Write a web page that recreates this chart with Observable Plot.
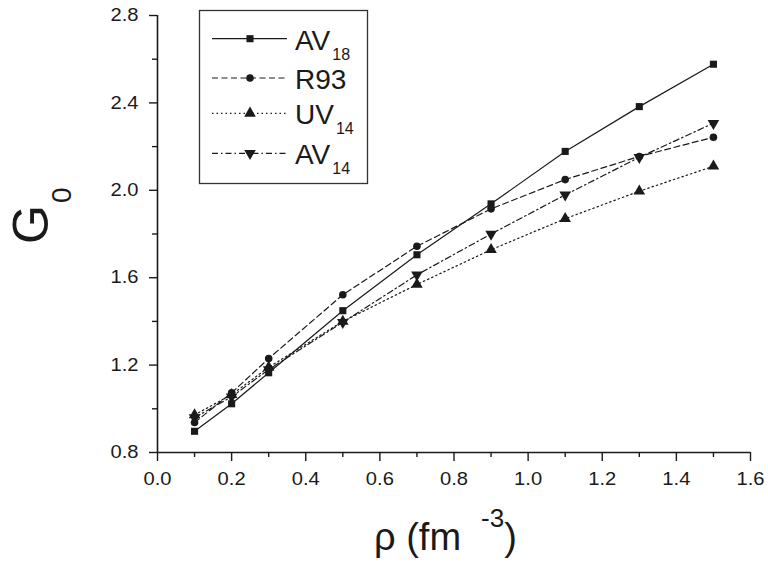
<!DOCTYPE html>
<html><head><meta charset="utf-8">
<script src="https://cdn.jsdelivr.net/npm/d3@7"></script>
<script src="https://cdn.jsdelivr.net/npm/@observablehq/plot@0.6"></script>
<style>html,body{margin:0;padding:0;background:#fff} svg{display:block}</style>
</head><body><div id="chart"></div>
<script>
// ---- data ----
const rho  = [0.1, 0.2, 0.3, 0.5, 0.7, 0.9, 1.1, 1.3, 1.5];
const av18 = [0.897, 1.023, 1.165, 1.449, 1.705, 1.938, 2.178, 2.383, 2.577];
const r93  = [0.937, 1.073, 1.230, 1.522, 1.744, 1.915, 2.049, 2.155, 2.243];
const uv14 = [0.972, 1.065, 1.190, 1.400, 1.569, 1.728, 1.870, 1.996, 2.110];
const av14 = [0.960, 1.055, 1.180, 1.396, 1.613, 1.800, 1.979, 2.151, 2.307];
const seriesLabels = [["AV","18"], ["R93",""], ["UV","14"], ["AV","14"]];
const xTicks = [0, 0.2, 0.4, 0.6, 0.8, 1.0, 1.2, 1.4, 1.6];
const xMinor = [0.1, 0.3, 0.5, 0.7, 0.9, 1.1, 1.3, 1.5];
const yTicks = [0.8, 1.2, 1.6, 2.0, 2.4, 2.8];
const yMinor = [1.0, 1.4, 1.8, 2.2, 2.6];

const triangleDown = {
  draw(context, size) {
    const y = -Math.sqrt(size / (Math.sqrt(3) * 3));
    context.moveTo(0, -y * 2);
    context.lineTo(-Math.sqrt(3) * y, y);
    context.lineTo(Math.sqrt(3) * y, y);
    context.closePath();
  }
};

const ink = "#1a1a1a";
const styles = [
  {values: av18, symbol: "square",   dash: null,        r: 4.0},
  {values: r93,  symbol: "circle",   dash: "6,3.5",     r: 3.8},
  {values: uv14, symbol: "triangle", dash: "1.5,3",     r: 4.3},
  {values: av14, symbol: triangleDown, dash: "6,3,1.5,3", r: 4.3}
];

const series = styles.map((s, i) => rho.map((x, j) => ({rho: x, g: s.values[j], k: i})));

const W = 768, H = 562;
const font = "'Liberation Sans', Arial, Helvetica, sans-serif";

const marks = [
  Plot.axisX(xMinor, {tickSize: 5, tickFormat: () => "", label: null, stroke: ink, strokeWidth: 1.4}),
  Plot.axisX(xTicks, {tickSize: 9, tickPadding: 11, tickFormat: d3.format(".1f"), label: null, stroke: ink, strokeWidth: 1.4, fill: ink}),
  Plot.axisY(yMinor, {tickSize: 5, tickFormat: () => "", label: null, stroke: ink, strokeWidth: 1.4}),
  Plot.axisY(yTicks, {tickSize: 8, tickPadding: 11, tickFormat: d3.format(".1f"), label: null, stroke: ink, strokeWidth: 1.4, fill: ink}),
  Plot.ruleY([0.8], {stroke: ink, strokeWidth: 1.6}),
  Plot.ruleX([0], {stroke: ink, strokeWidth: 1.6})
];
styles.forEach((s, i) => {
  marks.push(Plot.line(series[i], {x: "rho", y: "g", stroke: ink, strokeWidth: 1.2, strokeDasharray: s.dash}));
});
styles.forEach((s, i) => {
  marks.push(Plot.dot(series[i], {x: "rho", y: "g", symbol: s.symbol, r: s.r, fill: ink, stroke: "none"}));
});

const plot = Plot.plot({
  width: W, height: H,
  marginLeft: 157, marginRight: 18, marginTop: 15, marginBottom: 110,
  style: {fontFamily: font, fontSize: "18px", color: ink, background: "#fff", overflow: "visible"},
  x: {domain: [0, 1.6]},
  y: {domain: [0.8, 2.8]},
  marks
});
document.getElementById("chart").appendChild(plot);

// slightly widen tick labels to match the reference typeface
plot.querySelectorAll('g[aria-label$="tick label"] text').forEach(t => {
  const tr = t.getAttribute("transform") || "";
  t.setAttribute("transform", tr + " scale(1.12,1)");
});

const svg = d3.select(plot);

// legend
const lg = svg.append("g").attr("font-family", font).attr("fill", ink).attr("text-anchor", "start");
lg.append("rect").attr("x", 199.5).attr("y", 10.5).attr("width", 168).attr("height", 173)
  .attr("fill", "#fff").attr("stroke", "#333").attr("stroke-width", 1.3);
const rowsY = [38.7, 78, 113.3, 153.3];
const baseY = [50, 88.5, 124, 163.5];
styles.forEach((s, i) => {
  const g = lg.append("g");
  g.append("line").attr("x1", 212).attr("x2", 287).attr("y1", rowsY[i]).attr("y2", rowsY[i])
    .attr("stroke", ink).attr("stroke-width", 1.2).attr("stroke-dasharray", s.dash);
  const type = typeof s.symbol === "string"
    ? {square: d3.symbolSquare, circle: d3.symbolCircle, triangle: d3.symbolTriangle}[s.symbol]
    : s.symbol;
  g.append("path").attr("d", d3.symbol(type, Math.PI * s.r * s.r)())
    .attr("transform", `translate(250,${rowsY[i]})`).attr("fill", ink);
  const t = g.append("text").attr("x", 295).attr("y", baseY[i]).attr("font-size", 28);
  t.append("tspan").text(seriesLabels[i][0]);
  if (seriesLabels[i][1]) t.append("tspan").attr("font-size", 16).attr("dx", 2).attr("dy", 10).text(seriesLabels[i][1]);
});

// y label G0
const yl = svg.append("text").attr("font-family", font).attr("fill", ink).attr("text-anchor", "start")
  .attr("transform", "translate(48,244) rotate(-90)").attr("font-size", 50);
yl.append("tspan").text("G");
yl.append("tspan").attr("font-size", 28).attr("dx", 2).attr("dy", 23).text("0");

// x label rho (fm^-3)
const xl = svg.append("text").attr("font-family", font).attr("fill", ink).attr("text-anchor", "start")
  .attr("x", 374).attr("y", 550).attr("font-size", 38);
xl.append("tspan").text("ρ (fm");
xl.append("tspan").attr("font-size", 26).attr("dx", 20).attr("dy", -23).text("-3");
xl.append("tspan").attr("dy", 23).attr("dx", 0).text(")");
</script>
</body></html>
